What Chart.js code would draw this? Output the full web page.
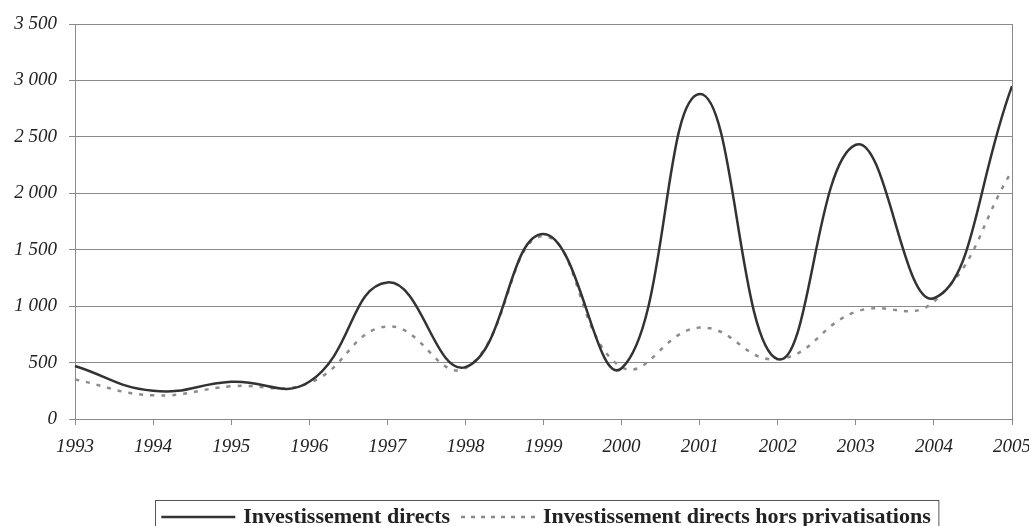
<!DOCTYPE html>
<html>
<head>
<meta charset="utf-8">
<script src="https://cdn.jsdelivr.net/npm/chart.js@4"></script>
<style>
  body { margin: 0; background: #fff; }
  #wrap { width: 1029px; height: 526px; }
</style>
</head>
<body>
<div id="wrap"><canvas id="chart1"></canvas></div>
<script>
const years = ["1993", "1994", "1995", "1996", "1997", "1998", "1999", "2000", "2001", "2002", "2003", "2004", "2005"];
const directs = [470, 250, 330, 330, 1210, 460, 1640, 450, 2880, 530, 2430, 1070, 2950];
const horsPrivatisations = [350, 210, 290, 320, 820, 450, 1620, 460, 810, 530, 950, 1040, 2200];
const yTicks = [0, 500, 1000, 1500, 2000, 2500, 3000, 3500];

const serif = "'Liberation Serif', 'Times New Roman', serif";

function fmt(v) {
  if (v < 1000) return String(v);
  const r = v % 1000;
  return Math.floor(v / 1000) + " " + String(r).padStart(3, "0");
}

// cadre a droite + legende encadree en bas
const extras = {
  id: "extras",
  afterDraw(chart) {
    const c = chart.ctx;
    const a = chart.chartArea;
    c.save();
    c.strokeStyle = "#8a8a8a";
    c.lineWidth = 1;
    c.beginPath();
    c.moveTo(a.right + 0.5, a.top);
    c.lineTo(a.right + 0.5, a.bottom);
    c.stroke();

    // legende
    c.font = "bold 22px " + serif;
    c.textBaseline = "middle";
    const items = [
      { text: "Investissement directs", color: "#333", dash: [] },
      { text: "Investissement directs hors privatisations", color: "#888", dash: [4, 6] }
    ];
    const lineW = 74, gap = 8, sep = 11;
    let total = 0;
    items.forEach((it, i) => {
      it.w = c.measureText(it.text).width;
      total += lineW + gap + it.w + (i ? sep : 0);
    });
    const cx = 546;
    let x = cx - total / 2;
    const y = 517;
    c.strokeStyle = "#555";
    c.lineWidth = 1;
    c.strokeRect(Math.round(x - 6) + 0.5, 500.5, total + 14, 40);
    items.forEach((it, i) => {
      if (i) x += sep;
      c.strokeStyle = it.color;
      c.lineWidth = 2.5;
      c.setLineDash(it.dash);
      c.beginPath();
      c.moveTo(x, y);
      c.lineTo(x + lineW, y);
      c.stroke();
      c.setLineDash([]);
      x += lineW + gap;
      c.fillStyle = "#222";
      c.fillText(it.text, x, y);
      x += it.w;
    });
    c.restore();
  }
};

new Chart(document.getElementById("chart1"), {
  type: "line",
  data: {
    labels: years,
    datasets: [
      {
        label: "Investissement directs",
        data: directs,
        borderColor: "#333333",
        borderWidth: 2.5,
        pointRadius: 0,
        tension: 0.45,
        fill: false,
      },
      {
        label: "Investissement directs hors privatisations",
        data: horsPrivatisations,
        borderColor: "#8c8c8c",
        borderWidth: 2.5,
        borderDash: [4, 7],
        pointRadius: 0,
        tension: 0.45,
        fill: false,
      },
    ],
  },
  options: {
    responsive: true,
    maintainAspectRatio: false,
    animation: false,
    layout: { padding: { top: 24, right: 17, left: 0, bottom: 0 } },
    plugins: {
      legend: { display: false },
      tooltip: { enabled: false },
    },
    scales: {
      x: {
        type: "category",
        offset: false,
        afterFit(s) { s.height = 107; s.paddingLeft = 0; s.paddingRight = 0; },
        border: { display: true, color: "#8a8a8a" },
        grid: { drawOnChartArea: false, drawTicks: true, tickLength: 6, color: "#8a8a8a" },
        ticks: {
          maxRotation: 0,
          autoSkip: false,
          padding: 11,
          color: "#222",
          font: { family: serif, size: 19, style: "italic" },
        },
      },
      y: {
        min: 0,
        max: 3500,
        afterFit(s) { s.width = 75; s.paddingTop = 0; s.paddingBottom = 0; },
        afterBuildTicks(s) { s.ticks = yTicks.map(v => ({ value: v })); },
        border: { display: true, color: "#8a8a8a" },
        grid: { color: "#8a8a8a", tickLength: 6 },
        ticks: {
          padding: 12,
          color: "#222",
          callback: v => fmt(v),
          font: { family: serif, size: 19, style: "italic" },
        },
      },
    },
  },
  plugins: [extras],
});
</script>
</body>
</html>
